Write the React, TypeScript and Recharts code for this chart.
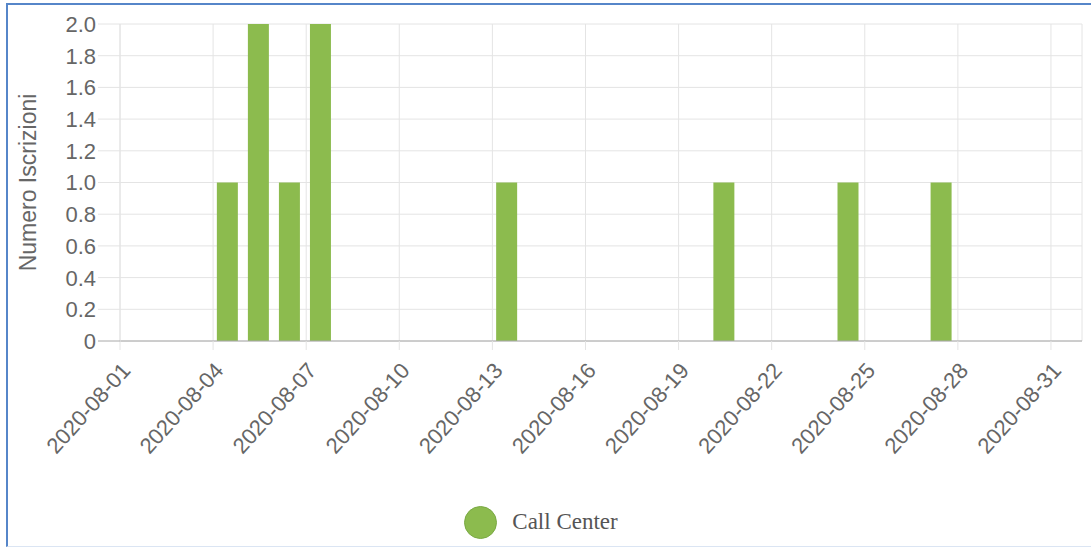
import React from 'react';
import { BarChart, Bar, XAxis, YAxis, CartesianGrid, Legend } from 'recharts';

// registrations per day (only days with entries)
const dates = [
  '2020-08-04',
  '2020-08-05',
  '2020-08-06',
  '2020-08-07',
  '2020-08-13',
  '2020-08-20',
  '2020-08-24',
  '2020-08-27'
];
const callCenter = [1, 2, 1, 2, 1, 1, 1, 1];

const xTickLabels = [
  '2020-08-01',
  '2020-08-04',
  '2020-08-07',
  '2020-08-10',
  '2020-08-13',
  '2020-08-16',
  '2020-08-19',
  '2020-08-22',
  '2020-08-25',
  '2020-08-28',
  '2020-08-31'
];
const yTicks = [0, 0.2, 0.4, 0.6, 0.8, 1.0, 1.2, 1.4, 1.6, 1.8, 2.0];

const seriesName = 'Call Center';
const yLabel = 'Numero Iscrizioni';

const GREEN = '#8cbb4e';
const GRID = '#e4e4e4';
const TEXT = '#666';
const FONT = 'Arial, "Liberation Sans", sans-serif';

// day index since 2020-08-01 (bars sit in the middle of their day)
const dayIndex = (d: string) => Number(d.slice(8, 10)) - 1;
const BAR_OFFSET = 0.46;

const data = dates.map((d, i) => ({
  date: d,
  x: dayIndex(d) + BAR_OFFSET,
  value: callCenter[i]
}));

const xTicks = xTickLabels.map(dayIndex);
const labelForTick = (v: number) => xTickLabels[xTicks.indexOf(v)] ?? '';

const YTick = (props: any) => {
  const { x, y, payload } = props;
  const v = payload.value as number;
  const isZero = v === 0;
  return (
    <g>
      <line x1={x + 2} x2={x + 24} y1={y} y2={y} stroke={isZero ? '#a8a8a8' : GRID} />
      <text
        x={x}
        y={y}
        dy="0.36em"
        textAnchor="end"
        fill={TEXT}
        fontSize={22}
        fontFamily={FONT}
      >
        {isZero ? '0' : v.toFixed(1)}
      </text>
    </g>
  );
};

const LegendContent = () => (
  <div
    style={{
      display: 'flex',
      justifyContent: 'center',
      alignItems: 'center',
      height: 50
    }}
  >
    <span
      style={{
        display: 'inline-block',
        width: 31,
        height: 31,
        borderRadius: '50%',
        background: GREEN,
        border: '1.5px solid #7aa944',
        marginRight: 15
      }}
    />
    <span
      style={{
        fontFamily: '"Liberation Serif", "Times New Roman", serif',
        fontSize: 23,
        color: '#555'
      }}
    >
      {seriesName}
    </span>
  </div>
);

export default function App() {
  return (
    <div style={{ position: 'absolute', left: 0, top: 0, width: 1091, height: 547, background: '#fff' }}>
      <div style={{ position: 'absolute', left: 0, top: 0 }}>
        <BarChart
          width={1091}
          height={547}
          data={data}
          margin={{ top: 24, right: 9, bottom: 0, left: 0 }}
        >
          <CartesianGrid stroke={GRID} />
          <XAxis
            type="number"
            dataKey="x"
            domain={[0, 31]}
            ticks={xTicks}
            allowDataOverflow
            tickFormatter={labelForTick}
            height={156}
            tickSize={9}
            tickMargin={11}
            angle={-48}
            textAnchor="end"
            interval={0}
            axisLine={{ stroke: '#a8a8a8' }}
            tickLine={{ stroke: GRID }}
            tick={{ fill: TEXT, fontSize: 22, fontFamily: FONT }}
          />
          <YAxis
            domain={[0, 2]}
            ticks={yTicks}
            width={120}
            tickSize={22}
            tickMargin={2}
            tickLine={false}
            axisLine={{ stroke: GRID }}
            tick={<YTick />}
            label={{
              value: yLabel,
              angle: -90,
              position: 'insideLeft',
              offset: 28,
              style: { textAnchor: 'middle', fill: TEXT, fontSize: 23, fontFamily: FONT }
            }}
          />
          <Legend verticalAlign="bottom" height={50} content={<LegendContent />} />
          <Bar dataKey="value" name={seriesName} fill={GREEN} barSize={21} isAnimationActive={false} />
        </BarChart>
      </div>
      {/* frame of the screenshot */}
      <div
        style={{
          position: 'absolute',
          left: 6,
          top: 3,
          width: 1085,
          height: 541,
          borderLeft: '2px solid #5686c9',
          borderTop: '2px solid #5686c9',
          borderBottom: '1px solid #dbe5f3',
          pointerEvents: 'none'
        }}
      />
    </div>
  );
}
